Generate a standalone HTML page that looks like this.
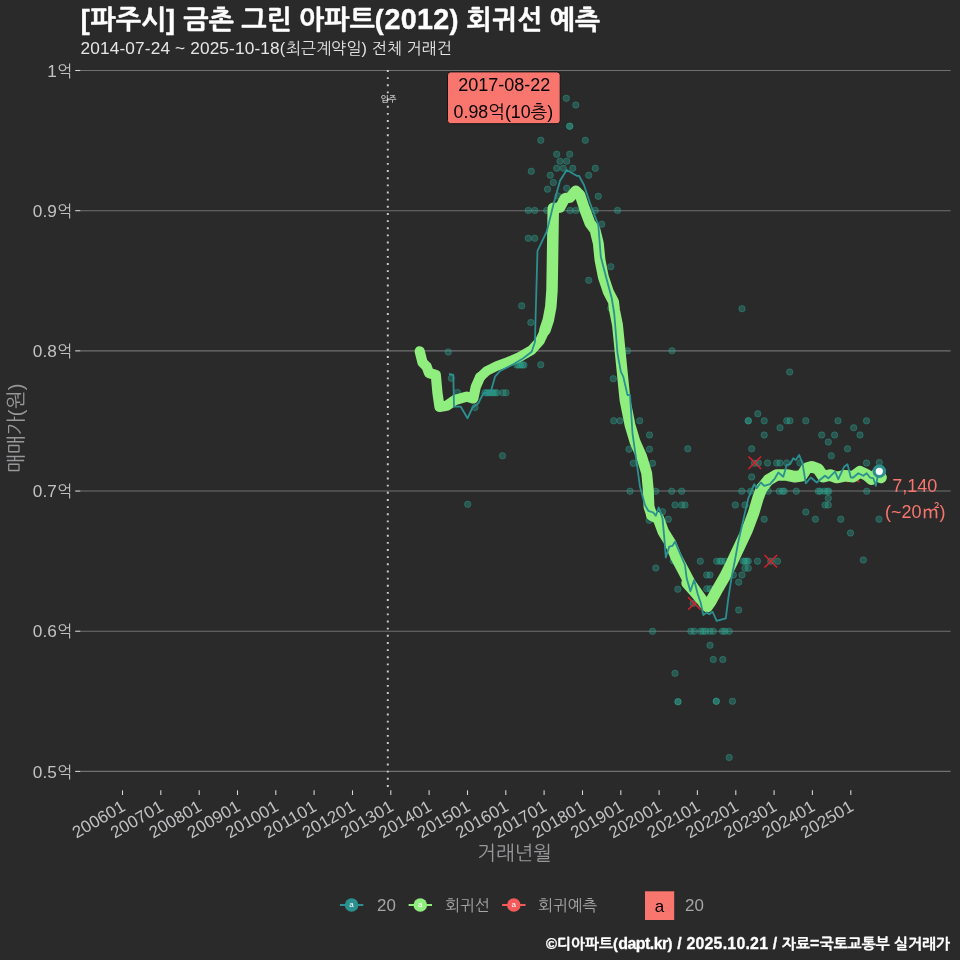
<!DOCTYPE html>
<html lang="ko"><head><meta charset="utf-8"><title>[파주시] 금촌 그린 아파트(2012) 회귀선 예측</title>
<style>
html,body{margin:0;padding:0;background:#2a2a2b;}
body{width:960px;height:960px;overflow:hidden;}
svg{display:block;}
text{font-family:"Liberation Sans","NanumGothic","Noto Sans CJK KR",sans-serif;}
.ax{font-size:16px;fill:#c2c2c4;}
.lg{font-size:15.8px;fill:#a6a6a6;}
</style></head><body>
<svg width="960" height="960" viewBox="0 0 960 960">
<rect x="0" y="0" width="960" height="960" fill="#2a2a2b"/>
<text x="80.8" y="28.7" font-weight="bold" fill="#ffffff" stroke="#ffffff" stroke-width="0.45"><tspan font-size="26.80" letter-spacing="0.802">[</tspan><tspan font-size="26.80">파주시</tspan><tspan font-size="26.80" letter-spacing="0.430">] </tspan><tspan font-size="26.80" word-spacing="0.059">금촌 그린 아파트</tspan><tspan font-size="26.80" letter-spacing="0.802">(</tspan><tspan font-size="28.68" letter-spacing="0.292">2012</tspan><tspan font-size="26.80" letter-spacing="0.430">) </tspan><tspan font-size="26.80" word-spacing="0.059">회귀선 예측</tspan></text>
<text x="80.5" y="54" fill="#e6e6e6"><tspan font-size="17.26" letter-spacing="0.137">2014-07-24 ~ 2025-10-18</tspan><tspan font-size="16.13" letter-spacing="0.483">(</tspan><tspan font-size="16.13">최근계약일</tspan><tspan font-size="16.13" letter-spacing="0.259">) </tspan><tspan font-size="16.13" word-spacing="0.035">전체 거래건</tspan></text>
<line x1="80" x2="950.6" y1="70.50" y2="70.50" stroke="#707073" stroke-width="1.07"/>
<line x1="75.2" x2="80.2" y1="70.50" y2="70.50" stroke="#d8d8db" stroke-width="1.07"/>
<text class="ax" x="72.2" y="76.7" text-anchor="end"><tspan font-size="17.23" letter-spacing="0.176">1</tspan><tspan font-size="16.10">억</tspan></text>
<line x1="80" x2="950.6" y1="210.68" y2="210.68" stroke="#707073" stroke-width="1.07"/>
<line x1="75.2" x2="80.2" y1="210.68" y2="210.68" stroke="#d8d8db" stroke-width="1.07"/>
<text class="ax" x="72.2" y="216.9" text-anchor="end"><tspan font-size="17.23" letter-spacing="0.148">0.9</tspan><tspan font-size="16.10">억</tspan></text>
<line x1="80" x2="950.6" y1="350.86" y2="350.86" stroke="#707073" stroke-width="1.07"/>
<line x1="75.2" x2="80.2" y1="350.86" y2="350.86" stroke="#d8d8db" stroke-width="1.07"/>
<text class="ax" x="72.2" y="357.1" text-anchor="end"><tspan font-size="17.23" letter-spacing="0.148">0.8</tspan><tspan font-size="16.10">억</tspan></text>
<line x1="80" x2="950.6" y1="491.04" y2="491.04" stroke="#707073" stroke-width="1.07"/>
<line x1="75.2" x2="80.2" y1="491.04" y2="491.04" stroke="#d8d8db" stroke-width="1.07"/>
<text class="ax" x="72.2" y="497.2" text-anchor="end"><tspan font-size="17.23" letter-spacing="0.148">0.7</tspan><tspan font-size="16.10">억</tspan></text>
<line x1="80" x2="950.6" y1="631.22" y2="631.22" stroke="#707073" stroke-width="1.07"/>
<line x1="75.2" x2="80.2" y1="631.22" y2="631.22" stroke="#d8d8db" stroke-width="1.07"/>
<text class="ax" x="72.2" y="637.4" text-anchor="end"><tspan font-size="17.23" letter-spacing="0.148">0.6</tspan><tspan font-size="16.10">억</tspan></text>
<line x1="80" x2="950.6" y1="771.40" y2="771.40" stroke="#707073" stroke-width="1.07"/>
<line x1="75.2" x2="80.2" y1="771.40" y2="771.40" stroke="#d8d8db" stroke-width="1.07"/>
<text class="ax" x="72.2" y="777.6" text-anchor="end"><tspan font-size="17.23" letter-spacing="0.148">0.5</tspan><tspan font-size="16.10">억</tspan></text>
<line x1="122.5" x2="122.5" y1="790.3" y2="795" stroke="#d8d8db" stroke-width="1.07"/>
<text class="ax" transform="translate(126.5 809.8) rotate(-30)" text-anchor="end"><tspan font-size="17.01" letter-spacing="0.173">200601</tspan></text>
<line x1="160.8" x2="160.8" y1="790.3" y2="795" stroke="#d8d8db" stroke-width="1.07"/>
<text class="ax" transform="translate(164.8 809.8) rotate(-30)" text-anchor="end"><tspan font-size="17.01" letter-spacing="0.173">200701</tspan></text>
<line x1="199.2" x2="199.2" y1="790.3" y2="795" stroke="#d8d8db" stroke-width="1.07"/>
<text class="ax" transform="translate(203.2 809.8) rotate(-30)" text-anchor="end"><tspan font-size="17.01" letter-spacing="0.173">200801</tspan></text>
<line x1="237.5" x2="237.5" y1="790.3" y2="795" stroke="#d8d8db" stroke-width="1.07"/>
<text class="ax" transform="translate(241.5 809.8) rotate(-30)" text-anchor="end"><tspan font-size="17.01" letter-spacing="0.173">200901</tspan></text>
<line x1="275.8" x2="275.8" y1="790.3" y2="795" stroke="#d8d8db" stroke-width="1.07"/>
<text class="ax" transform="translate(279.8 809.8) rotate(-30)" text-anchor="end"><tspan font-size="17.01" letter-spacing="0.173">201001</tspan></text>
<line x1="314.1" x2="314.1" y1="790.3" y2="795" stroke="#d8d8db" stroke-width="1.07"/>
<text class="ax" transform="translate(318.1 809.8) rotate(-30)" text-anchor="end"><tspan font-size="17.01" letter-spacing="0.384">201101</tspan></text>
<line x1="352.5" x2="352.5" y1="790.3" y2="795" stroke="#d8d8db" stroke-width="1.07"/>
<text class="ax" transform="translate(356.5 809.8) rotate(-30)" text-anchor="end"><tspan font-size="17.01" letter-spacing="0.173">201201</tspan></text>
<line x1="390.8" x2="390.8" y1="790.3" y2="795" stroke="#d8d8db" stroke-width="1.07"/>
<text class="ax" transform="translate(394.8 809.8) rotate(-30)" text-anchor="end"><tspan font-size="17.01" letter-spacing="0.173">201301</tspan></text>
<line x1="429.1" x2="429.1" y1="790.3" y2="795" stroke="#d8d8db" stroke-width="1.07"/>
<text class="ax" transform="translate(433.1 809.8) rotate(-30)" text-anchor="end"><tspan font-size="17.01" letter-spacing="0.173">201401</tspan></text>
<line x1="467.5" x2="467.5" y1="790.3" y2="795" stroke="#d8d8db" stroke-width="1.07"/>
<text class="ax" transform="translate(471.5 809.8) rotate(-30)" text-anchor="end"><tspan font-size="17.01" letter-spacing="0.173">201501</tspan></text>
<line x1="505.8" x2="505.8" y1="790.3" y2="795" stroke="#d8d8db" stroke-width="1.07"/>
<text class="ax" transform="translate(509.8 809.8) rotate(-30)" text-anchor="end"><tspan font-size="17.01" letter-spacing="0.173">201601</tspan></text>
<line x1="544.1" x2="544.1" y1="790.3" y2="795" stroke="#d8d8db" stroke-width="1.07"/>
<text class="ax" transform="translate(548.1 809.8) rotate(-30)" text-anchor="end"><tspan font-size="17.01" letter-spacing="0.173">201701</tspan></text>
<line x1="582.5" x2="582.5" y1="790.3" y2="795" stroke="#d8d8db" stroke-width="1.07"/>
<text class="ax" transform="translate(586.5 809.8) rotate(-30)" text-anchor="end"><tspan font-size="17.01" letter-spacing="0.173">201801</tspan></text>
<line x1="620.8" x2="620.8" y1="790.3" y2="795" stroke="#d8d8db" stroke-width="1.07"/>
<text class="ax" transform="translate(624.8 809.8) rotate(-30)" text-anchor="end"><tspan font-size="17.01" letter-spacing="0.173">201901</tspan></text>
<line x1="659.1" x2="659.1" y1="790.3" y2="795" stroke="#d8d8db" stroke-width="1.07"/>
<text class="ax" transform="translate(663.1 809.8) rotate(-30)" text-anchor="end"><tspan font-size="17.01" letter-spacing="0.173">202001</tspan></text>
<line x1="697.4" x2="697.4" y1="790.3" y2="795" stroke="#d8d8db" stroke-width="1.07"/>
<text class="ax" transform="translate(701.4 809.8) rotate(-30)" text-anchor="end"><tspan font-size="17.01" letter-spacing="0.173">202101</tspan></text>
<line x1="735.8" x2="735.8" y1="790.3" y2="795" stroke="#d8d8db" stroke-width="1.07"/>
<text class="ax" transform="translate(739.8 809.8) rotate(-30)" text-anchor="end"><tspan font-size="17.01" letter-spacing="0.173">202201</tspan></text>
<line x1="774.1" x2="774.1" y1="790.3" y2="795" stroke="#d8d8db" stroke-width="1.07"/>
<text class="ax" transform="translate(778.1 809.8) rotate(-30)" text-anchor="end"><tspan font-size="17.01" letter-spacing="0.173">202301</tspan></text>
<line x1="812.4" x2="812.4" y1="790.3" y2="795" stroke="#d8d8db" stroke-width="1.07"/>
<text class="ax" transform="translate(816.4 809.8) rotate(-30)" text-anchor="end"><tspan font-size="17.01" letter-spacing="0.173">202401</tspan></text>
<line x1="850.8" x2="850.8" y1="790.3" y2="795" stroke="#d8d8db" stroke-width="1.07"/>
<text class="ax" transform="translate(854.8 809.8) rotate(-30)" text-anchor="end"><tspan font-size="17.01" letter-spacing="0.173">202501</tspan></text>
<text x="514.6" y="860.2" font-size="19.9" fill="#98989b" text-anchor="middle">거래년월</text>
<text transform="translate(22.6 427.8) rotate(-90)" fill="#98989b" text-anchor="middle"><tspan font-size="20.00">매매가</tspan><tspan font-size="20.00" letter-spacing="0.598">(</tspan><tspan font-size="20.00">원</tspan><tspan font-size="20.00" letter-spacing="0.598">)</tspan></text>
<line x1="387.8" x2="387.8" y1="70" y2="790" stroke="#d0d0d0" stroke-width="1.9" stroke-dasharray="1.9 5.25"/>
<text x="388.4" y="101.5" font-size="8.5" fill="#ffffff" text-anchor="middle">입주</text>
<g fill="#2ca892" fill-opacity="0.35" stroke="#2ca892" stroke-opacity="0.48" stroke-width="0.8">
<circle cx="448.3" cy="352.0" r="3.2"/>
<circle cx="451.3" cy="378.3" r="3.2"/>
<circle cx="457.5" cy="392.5" r="3.2"/>
<circle cx="475.0" cy="407.5" r="3.2"/>
<circle cx="467.7" cy="504.3" r="3.2"/>
<circle cx="502.5" cy="455.8" r="3.2"/>
<circle cx="485.0" cy="392.8" r="3.2"/>
<circle cx="487.0" cy="392.8" r="3.2"/>
<circle cx="489.0" cy="392.8" r="3.2"/>
<circle cx="491.0" cy="392.8" r="3.2"/>
<circle cx="493.0" cy="392.8" r="3.2"/>
<circle cx="495.0" cy="392.8" r="3.2"/>
<circle cx="497.0" cy="392.8" r="3.2"/>
<circle cx="503.0" cy="392.8" r="3.2"/>
<circle cx="506.0" cy="392.8" r="3.2"/>
<circle cx="516.7" cy="365.0" r="3.2"/>
<circle cx="518.5" cy="365.0" r="3.2"/>
<circle cx="520.5" cy="365.0" r="3.2"/>
<circle cx="522.5" cy="365.0" r="3.2"/>
<circle cx="524.0" cy="365.0" r="3.2"/>
<circle cx="540.8" cy="364.7" r="3.2"/>
<circle cx="530.8" cy="322.5" r="3.2"/>
<circle cx="521.7" cy="305.8" r="3.2"/>
<circle cx="566.3" cy="98.3" r="3.2"/>
<circle cx="575.8" cy="105.0" r="3.2"/>
<circle cx="569.7" cy="126.2" r="3.2"/>
<circle cx="540.8" cy="140.3" r="3.2"/>
<circle cx="585.3" cy="140.3" r="3.2"/>
<circle cx="556.7" cy="154.2" r="3.2"/>
<circle cx="569.7" cy="154.2" r="3.2"/>
<circle cx="560.0" cy="161.2" r="3.2"/>
<circle cx="566.7" cy="161.2" r="3.2"/>
<circle cx="556.7" cy="168.3" r="3.2"/>
<circle cx="563.3" cy="168.3" r="3.2"/>
<circle cx="572.8" cy="168.3" r="3.2"/>
<circle cx="595.3" cy="168.3" r="3.2"/>
<circle cx="531.3" cy="171.3" r="3.2"/>
<circle cx="550.3" cy="175.3" r="3.2"/>
<circle cx="588.7" cy="175.3" r="3.2"/>
<circle cx="553.3" cy="182.5" r="3.2"/>
<circle cx="547.5" cy="189.2" r="3.2"/>
<circle cx="566.7" cy="188.3" r="3.2"/>
<circle cx="598.3" cy="196.3" r="3.2"/>
<circle cx="558.0" cy="196.0" r="3.2"/>
<circle cx="528.3" cy="210.4" r="3.2"/>
<circle cx="534.7" cy="210.4" r="3.2"/>
<circle cx="546.7" cy="210.4" r="3.2"/>
<circle cx="570.0" cy="210.4" r="3.2"/>
<circle cx="575.8" cy="210.4" r="3.2"/>
<circle cx="595.3" cy="210.4" r="3.2"/>
<circle cx="617.5" cy="210.4" r="3.2"/>
<circle cx="601.7" cy="224.2" r="3.2"/>
<circle cx="528.3" cy="238.3" r="3.2"/>
<circle cx="534.7" cy="238.3" r="3.2"/>
<circle cx="610.8" cy="266.7" r="3.2"/>
<circle cx="588.7" cy="280.3" r="3.2"/>
<circle cx="610.8" cy="308.3" r="3.2"/>
<circle cx="627.5" cy="350.8" r="3.2"/>
<circle cx="672.0" cy="350.8" r="3.2"/>
<circle cx="613.3" cy="378.7" r="3.2"/>
<circle cx="613.7" cy="420.8" r="3.2"/>
<circle cx="620.0" cy="420.8" r="3.2"/>
<circle cx="639.7" cy="420.8" r="3.2"/>
<circle cx="649.5" cy="435.0" r="3.2"/>
<circle cx="629.0" cy="449.2" r="3.2"/>
<circle cx="649.5" cy="449.2" r="3.2"/>
<circle cx="687.8" cy="448.8" r="3.2"/>
<circle cx="751.7" cy="448.8" r="3.2"/>
<circle cx="633.3" cy="463.3" r="3.2"/>
<circle cx="652.5" cy="463.3" r="3.2"/>
<circle cx="751.7" cy="477.0" r="3.2"/>
<circle cx="630.0" cy="491.2" r="3.2"/>
<circle cx="655.8" cy="491.2" r="3.2"/>
<circle cx="671.7" cy="491.2" r="3.2"/>
<circle cx="681.7" cy="491.2" r="3.2"/>
<circle cx="741.7" cy="491.2" r="3.2"/>
<circle cx="750.8" cy="491.2" r="3.2"/>
<circle cx="675.0" cy="505.0" r="3.2"/>
<circle cx="681.7" cy="505.0" r="3.2"/>
<circle cx="685.0" cy="505.0" r="3.2"/>
<circle cx="735.3" cy="505.0" r="3.2"/>
<circle cx="745.0" cy="505.0" r="3.2"/>
<circle cx="662.5" cy="511.7" r="3.2"/>
<circle cx="668.3" cy="519.2" r="3.2"/>
<circle cx="649.2" cy="520.3" r="3.2"/>
<circle cx="655.8" cy="568.0" r="3.2"/>
<circle cx="700.3" cy="561.2" r="3.2"/>
<circle cx="716.7" cy="561.2" r="3.2"/>
<circle cx="720.0" cy="561.2" r="3.2"/>
<circle cx="725.0" cy="561.2" r="3.2"/>
<circle cx="743.3" cy="561.2" r="3.2"/>
<circle cx="746.7" cy="561.2" r="3.2"/>
<circle cx="748.3" cy="561.2" r="3.2"/>
<circle cx="757.5" cy="561.2" r="3.2"/>
<circle cx="745.0" cy="568.3" r="3.2"/>
<circle cx="748.3" cy="568.3" r="3.2"/>
<circle cx="706.7" cy="575.0" r="3.2"/>
<circle cx="710.0" cy="575.0" r="3.2"/>
<circle cx="733.3" cy="575.0" r="3.2"/>
<circle cx="742.0" cy="575.0" r="3.2"/>
<circle cx="738.7" cy="582.2" r="3.2"/>
<circle cx="677.8" cy="589.2" r="3.2"/>
<circle cx="706.7" cy="588.8" r="3.2"/>
<circle cx="710.0" cy="588.8" r="3.2"/>
<circle cx="673.3" cy="560.8" r="3.2"/>
<circle cx="693.3" cy="603.3" r="3.2"/>
<circle cx="738.7" cy="610.0" r="3.2"/>
<circle cx="652.5" cy="631.3" r="3.2"/>
<circle cx="690.8" cy="631.3" r="3.2"/>
<circle cx="694.2" cy="631.3" r="3.2"/>
<circle cx="700.8" cy="631.3" r="3.2"/>
<circle cx="703.3" cy="631.3" r="3.2"/>
<circle cx="705.8" cy="631.3" r="3.2"/>
<circle cx="710.0" cy="631.3" r="3.2"/>
<circle cx="713.3" cy="631.3" r="3.2"/>
<circle cx="722.5" cy="631.3" r="3.2"/>
<circle cx="725.0" cy="631.3" r="3.2"/>
<circle cx="729.2" cy="631.3" r="3.2"/>
<circle cx="710.0" cy="645.3" r="3.2"/>
<circle cx="713.3" cy="659.5" r="3.2"/>
<circle cx="722.8" cy="659.5" r="3.2"/>
<circle cx="675.0" cy="673.3" r="3.2"/>
<circle cx="678.0" cy="701.7" r="3.2"/>
<circle cx="716.3" cy="701.3" r="3.2"/>
<circle cx="732.5" cy="701.3" r="3.2"/>
<circle cx="729.2" cy="757.5" r="3.2"/>
<circle cx="742.0" cy="308.7" r="3.2"/>
<circle cx="789.7" cy="372.0" r="3.2"/>
<circle cx="757.8" cy="413.8" r="3.2"/>
<circle cx="748.3" cy="420.8" r="3.2"/>
<circle cx="764.2" cy="420.8" r="3.2"/>
<circle cx="786.7" cy="420.8" r="3.2"/>
<circle cx="790.0" cy="420.8" r="3.2"/>
<circle cx="805.8" cy="420.8" r="3.2"/>
<circle cx="838.0" cy="420.8" r="3.2"/>
<circle cx="866.5" cy="420.8" r="3.2"/>
<circle cx="780.0" cy="427.8" r="3.2"/>
<circle cx="853.7" cy="427.8" r="3.2"/>
<circle cx="764.2" cy="435.0" r="3.2"/>
<circle cx="821.7" cy="435.0" r="3.2"/>
<circle cx="834.6" cy="435.0" r="3.2"/>
<circle cx="860.0" cy="435.0" r="3.2"/>
<circle cx="828.3" cy="442.0" r="3.2"/>
<circle cx="847.5" cy="448.8" r="3.2"/>
<circle cx="831.3" cy="455.8" r="3.2"/>
<circle cx="758.3" cy="463.0" r="3.2"/>
<circle cx="767.5" cy="463.0" r="3.2"/>
<circle cx="776.7" cy="463.0" r="3.2"/>
<circle cx="780.0" cy="463.0" r="3.2"/>
<circle cx="786.7" cy="463.0" r="3.2"/>
<circle cx="800.0" cy="463.0" r="3.2"/>
<circle cx="866.5" cy="463.0" r="3.2"/>
<circle cx="879.3" cy="462.5" r="3.2"/>
<circle cx="768.3" cy="491.2" r="3.2"/>
<circle cx="779.2" cy="491.2" r="3.2"/>
<circle cx="782.5" cy="491.2" r="3.2"/>
<circle cx="784.2" cy="491.2" r="3.2"/>
<circle cx="796.3" cy="491.2" r="3.2"/>
<circle cx="818.3" cy="491.2" r="3.2"/>
<circle cx="820.2" cy="491.2" r="3.2"/>
<circle cx="824.5" cy="491.2" r="3.2"/>
<circle cx="827.3" cy="491.2" r="3.2"/>
<circle cx="828.8" cy="491.2" r="3.2"/>
<circle cx="866.7" cy="491.2" r="3.2"/>
<circle cx="828.3" cy="498.3" r="3.2"/>
<circle cx="825.0" cy="505.0" r="3.2"/>
<circle cx="828.3" cy="505.0" r="3.2"/>
<circle cx="805.8" cy="512.0" r="3.2"/>
<circle cx="764.2" cy="519.2" r="3.2"/>
<circle cx="815.4" cy="519.2" r="3.2"/>
<circle cx="840.8" cy="519.2" r="3.2"/>
<circle cx="879.0" cy="519.2" r="3.2"/>
<circle cx="850.5" cy="533.0" r="3.2"/>
<circle cx="863.3" cy="560.0" r="3.2"/>
<circle cx="721.7" cy="561.2" r="3.2"/>
<circle cx="745.0" cy="561.2" r="3.2"/>
<circle cx="777.5" cy="561.2" r="3.2"/>
<circle cx="770.8" cy="561.2" r="3.2"/>
<circle cx="754.5" cy="463.2" r="3.2"/>
<circle cx="678.0" cy="701.7" r="3.2"/>
<circle cx="716.3" cy="701.3" r="3.2"/>
<circle cx="748.3" cy="420.8" r="3.2"/>
<circle cx="569.7" cy="126.2" r="3.2"/>
</g>
<g stroke="#e0202a" stroke-width="1.4" fill="none">
<path d="M748.5 456.5 L761.1 469.1 M748.5 469.1 L761.1 456.5"/>
<path d="M764.5 554.9 L777.1 567.5 M764.5 567.5 L777.1 554.9"/>
<path d="M688.1 597.2 L700.7 609.8 M688.1 609.8 L700.7 597.2"/>
<path d="M847.3 470.2 L859.3 482.2 M847.3 482.2 L859.3 470.2"/>
</g>
<g fill="none" stroke="#90ee7e" stroke-linejoin="round" stroke-linecap="round">
<path d="M419.7 351.3 L422.5 362.5 L426.7 366.7 L429.0 373.0 L435.8 375.0 L437.5 393.3 L439.5 407.0 L446.7 405.8 L455.0 400.0 L466.7 396.7 L473.3 398.5 L475.8 386.7 L480.0 377.2" stroke-width="10.2"/>
<path d="M480.0 377.2 L486.7 371.0 L496.7 366.0 L508.3 361.8 L520.0 356.8 L531.7 350.0 L540.0 340.8 L545.0 330.0" stroke-width="9.7"/>
<path d="M545.0 330.0 L548.3 320.0 L550.8 306.7 L552.0 290.0 L552.5 260.0 L553.0 226.7 L553.3 208.3" stroke-width="11.5"/>
<path d="M553.3 208.3 L560.0 207.5 L565.0 198.3 L570.0 197.5 L575.8 190.8 L580.0 195.0 L585.0 210.0" stroke-width="10.6"/>
<path d="M585.0 210.0 L590.0 223.3 L595.0 230.0 L598.3 243.3 L600.0 260.0 L603.3 276.7 L608.3 291.7 L613.5 301.7 L614.5 310.0 L617.5 325.0 L620.0 350.0 L622.5 375.0 L625.0 400.0 L630.0 425.0 L635.0 441.7 L641.7 456.7 L646.7 473.3 L648.3 490.0 L649.0 506.7 L651.7 515.0" stroke-width="10.9"/>
<path d="M651.7 515.0 L658.3 518.3 L663.3 531.7 L670.5 543.3 L676.0 556.7 L683.0 570.0 L690.0 583.3 L698.0 594.5 L704.0 603.0 L707.3 606.5 L710.5 602.0 L718.0 588.3 L724.8 576.7 L731.5 563.3 L739.3 546.7 L747.2 530.0 L753.5 513.3 L758.0 498.0 L761.7 488.3" stroke-width="11.5"/>
<path d="M761.7 488.3 L768.3 480.0 L776.7 475.0 L786.7 475.0 L795.0 476.7 L801.7 475.8 L806.7 468.3 L811.7 466.7 L818.3 469.2 L823.3 476.7 L830.0 475.0 L836.7 477.5 L845.0 475.8 L853.3 476.7 L860.0 471.7 L866.7 475.0 L871.7 479.2 L876.5 474.5 L881.0 477.5" stroke-width="11.6"/>
</g>
<path d="M686.8 583 L694.1 591.3 L700.4 598.6" fill="none" stroke="#90ee7e" stroke-width="11" stroke-linecap="round" stroke-linejoin="round"/>
<path d="M449.0 374.0 L453.3 375.0 L454.0 406.7 L460.8 406.7 L467.5 418.3 L472.5 407.5 L478.3 403.3 L483.3 393.3 L490.8 391.7 L495.0 376.7 L500.0 371.0 L513.3 364.3 L523.3 358.3 L531.7 351.7 L535.0 341.7 L535.5 320.0 L537.5 250.8 L546.7 231.7 L553.3 205.0 L560.0 180.8 L566.7 170.0 L576.7 175.8 L579.0 175.8 L584.0 185.0 L590.0 203.0 L598.3 225.0 L600.8 256.7 L605.0 273.0 L611.7 298.0 L614.2 313.3 L617.5 353.3 L620.8 371.7 L623.3 376.7 L627.5 395.0 L630.0 395.0 L632.5 433.3 L635.8 456.7 L640.0 486.7 L645.0 505.0 L648.3 510.8 L653.3 512.5 L655.8 515.8 L658.7 507.5 L662.5 518.3 L664.2 536.7 L665.8 557.5 L669.2 546.7 L672.5 545.8 L675.0 541.7 L680.0 553.3 L685.0 565.0 L686.7 578.3 L690.4 591.3 L694.2 580.0 L697.5 593.3 L700.8 603.3 L703.3 615.0 L706.7 612.5 L709.2 614.2 L712.5 611.7 L716.7 620.8 L725.8 618.3 L728.3 598.3 L731.7 576.7 L735.0 560.0 L738.3 541.7 L743.3 520.0 L748.3 498.3 L754.2 484.2 L756.7 488.3 L760.8 482.5 L764.2 485.8 L770.0 484.2 L775.0 478.3 L778.3 472.5 L783.3 476.7 L786.7 465.0 L790.0 464.2 L793.3 458.3 L795.8 460.0 L799.2 455.0 L802.5 463.3 L805.8 483.3 L810.8 477.5 L816.7 482.5 L825.0 475.8 L828.3 478.3 L835.0 471.7 L838.3 479.2 L844.2 466.7 L847.5 464.2 L850.8 477.5 L853.3 477.5 L858.3 473.3 L863.3 475.8 L866.7 473.3 L870.0 477.5 L873.3 478.3 L875.8 485.8 L878.3 473.3" fill="none" stroke="#2b908f" stroke-width="1.8" stroke-linejoin="round" stroke-linecap="butt"/>
<circle cx="879.3" cy="471.3" r="5.2" fill="#ffffff" stroke="#2b908f" stroke-width="3.2"/>
<rect x="447.5" y="71.9" width="112.7" height="51.8" rx="3.2" ry="3.2" fill="#f8766d" stroke="#141414" stroke-width="1"/>
<text x="504.3" y="90.5" font-size="18" fill="#000000" text-anchor="middle">2017-08-22</text>
<text x="503.4" y="117.5" font-size="17.8" fill="#000000" text-anchor="middle">0.98억(10층)</text>
<text x="914.8" y="491.8" font-size="18" fill="#f8766d" text-anchor="middle">7,140</text>
<text x="915.2" y="518.3" font-size="18" fill="#f8766d" text-anchor="middle">(~20㎡)</text>
<line x1="339.9" x2="363.3" y1="905" y2="905" stroke="#2b908f" stroke-width="2"/>
<circle cx="351.6" cy="905" r="6.8" fill="#2b908f"/>
<text x="351.6" y="907.3" font-size="8" fill="#ffffff" text-anchor="middle">a</text>
<line x1="408.6" x2="432.0" y1="905" y2="905" stroke="#90ee7e" stroke-width="2"/>
<circle cx="420.3" cy="905" r="6.8" fill="#90ee7e"/>
<text x="420.3" y="907.3" font-size="8" fill="#ffffff" text-anchor="middle">a</text>
<line x1="502.1" x2="525.5" y1="905" y2="905" stroke="#f45b5b" stroke-width="2"/>
<circle cx="513.8" cy="905" r="6.8" fill="#f45b5b"/>
<text x="513.8" y="907.3" font-size="8" fill="#ffffff" text-anchor="middle">a</text>
<text class="lg" x="377" y="911.4"><tspan font-size="16.91" letter-spacing="0.172">20</tspan></text>
<text class="lg" x="445" y="911">회귀선</text>
<text class="lg" x="538" y="911">회귀예측</text>
<rect x="645" y="891.3" width="29.2" height="28.7" fill="#f8766d"/>
<text x="659.5" y="911.5" font-size="17" fill="#000000" text-anchor="middle">a</text>
<text class="lg" x="685" y="911.4"><tspan font-size="16.91" letter-spacing="0.172">20</tspan></text>
<text x="950" y="948.6" font-weight="bold" fill="#ffffff" stroke="#ffffff" stroke-width="0.3" text-anchor="end"><tspan font-size="14.90">©디아파트</tspan><tspan font-size="14.90" letter-spacing="0.446">(</tspan><tspan font-size="15.94" letter-spacing="-0.557">dapt.kr</tspan><tspan font-size="14.90" letter-spacing="0.239">) </tspan><tspan font-size="15.94" letter-spacing="0.201">/ 2025.10.21 / </tspan><tspan font-size="14.90">자료</tspan><tspan font-size="15.94" letter-spacing="0.434">=</tspan><tspan font-size="14.90" word-spacing="0.033">국토교통부 실거래가</tspan></text>
</svg></body></html>
